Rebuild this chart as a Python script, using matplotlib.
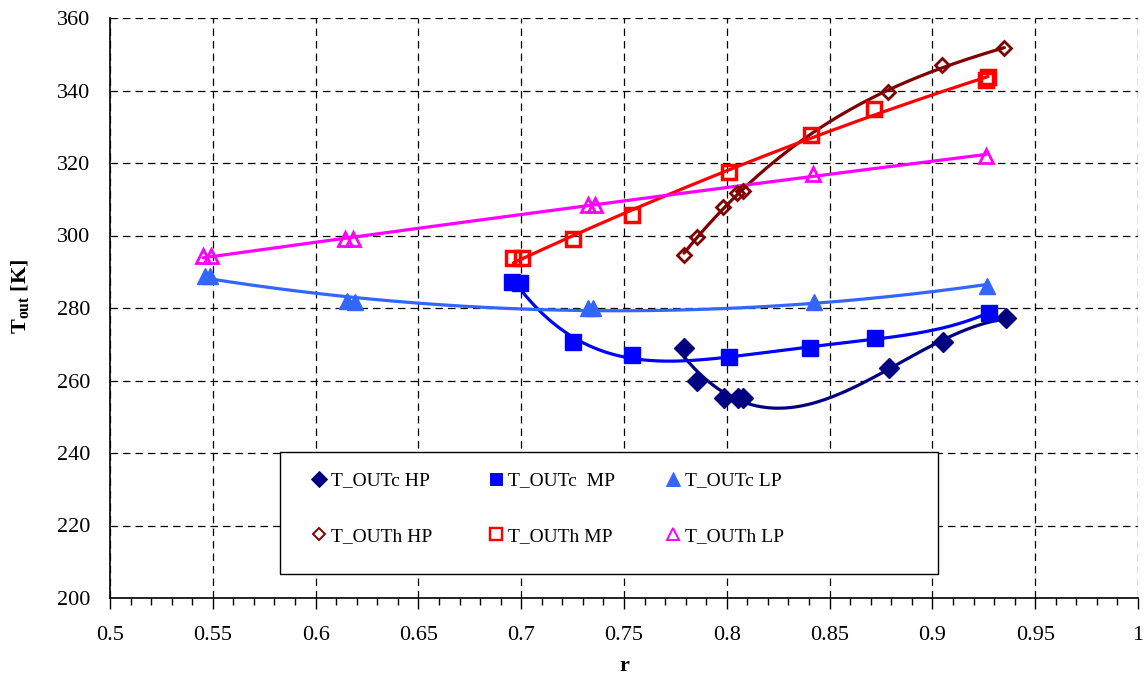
import numpy as np
import matplotlib
matplotlib.use("Agg")
import matplotlib.pyplot as plt
from matplotlib.lines import Line2D
from matplotlib.patches import Rectangle
from matplotlib.ticker import MultipleLocator

plt.rcParams['font.family'] = ['Liberation Serif', 'DejaVu Serif']
plt.rcParams['mathtext.fontset'] = 'custom'
plt.rcParams['mathtext.rm'] = 'Liberation Serif'
plt.rcParams['mathtext.bf'] = 'Liberation Serif:bold'
plt.rcParams['mathtext.it'] = 'Liberation Serif:italic'

# ---- data ----
r_c_hp = [0.7792, 0.7853, 0.7988, 0.8055, 0.8080, 0.8790, 0.9053, 0.9358]
t_c_hp = [268.9, 259.9, 255.3, 255.2, 255.3, 263.5, 270.7, 277.2]

r_c_mp = [0.6955, 0.6995, 0.7253, 0.7537, 0.8010, 0.8405, 0.8722, 0.9275]
t_c_mp = [287.2, 286.8, 270.7, 267.0, 266.4, 268.9, 271.7, 278.7]

r_c_lp = [0.5460, 0.5485, 0.6152, 0.6190, 0.7325, 0.7350, 0.8424, 0.9266]
t_c_lp = [288.8, 288.8, 281.9, 281.7, 279.9, 279.9, 281.6, 286.1]

r_h_hp = [0.7792, 0.7853, 0.7983, 0.8050, 0.8080, 0.8785, 0.9048, 0.9350]
t_h_hp = [294.7, 299.5, 308.0, 311.6, 312.2, 339.5, 347.0, 351.6]

r_h_mp = [0.6962, 0.7002, 0.7253, 0.7537, 0.8012, 0.8410, 0.8717, 0.9262, 0.9270]
t_h_mp = [293.7, 293.7, 299.0, 305.7, 317.6, 327.7, 334.8, 342.9, 343.6]

r_h_lp = [0.5453, 0.5489, 0.6143, 0.6183, 0.7326, 0.7358, 0.8420, 0.9260]
t_h_lp = [294.3, 294.3, 298.9, 298.9, 308.4, 308.4, 317.1, 321.9]

labels = ["T_OUTc HP", "T_OUTc  MP", "T_OUTc LP",
          "T_OUTh HP", "T_OUTh MP", "T_OUTh LP"]

x_ticks = [0.5, 0.55, 0.6, 0.65, 0.7, 0.75, 0.8, 0.85, 0.9, 0.95, 1.0]
x_ticklabels = ["0.5", "0.55", "0.6", "0.65", "0.7", "0.75", "0.8", "0.85", "0.9", "0.95", "1"]
y_ticks = [200, 220, 240, 260, 280, 300, 320, 340, 360]

# ---- style per series ----
series = [
    dict(r=r_c_hp, t=t_c_hp, deg=3, color='#000080', marker='D', ms=10, filled=True, mew=1),
    dict(r=r_c_mp, t=t_c_mp, deg=4, color='#0000FF', marker='s', ms=11, filled=True, mew=1),
    dict(r=r_c_lp, t=t_c_lp, deg=2, color='#3366FF', marker='^', ms=12, filled=True, mew=1),
    dict(r=r_h_hp, t=t_h_hp, deg=3, color='#800000', marker='D', ms=7.5, filled=False, mew=2),
    dict(r=r_h_mp, t=t_h_mp, deg=2, color='#FF0000', marker='s', ms=10, filled=False, mew=2.5),
    dict(r=r_h_lp, t=t_h_lp, deg=2, color='#FF00FF', marker='^', ms=10.5, filled=False, mew=2),
]

W, H = 1146, 681
fig = plt.figure(figsize=(W / 100, H / 100), dpi=100)
L, R, T, B = 110, 1138, 18, 598
ax = fig.add_axes([L / W, (H - B) / H, (R - L) / W, (B - T) / H])

handles = []
for s in series:
    x = np.asarray(s['r'])
    y = np.asarray(s['t'])
    p = np.polynomial.Polynomial.fit(x, y, s['deg'])
    xf = np.linspace(x.min(), x.max(), 400)
    ax.plot(xf, p(xf), color=s['color'], lw=2.3, zorder=3, solid_capstyle='round')
    fc = s['color'] if s['filled'] else 'none'
    ax.plot(x, y, linestyle='none', marker=s['marker'], ms=s['ms'],
            markerfacecolor=fc, markeredgecolor=s['color'], mew=s['mew'], zorder=4)
    handles.append(Line2D([], [], linestyle='none', marker=s['marker'],
                          ms=s['ms'] * 0.85, markerfacecolor=fc,
                          markeredgecolor=s['color'], mew=s['mew'] * 0.7))

ax.set_xlim(0.5, 1.0)
ax.set_ylim(200, 360)
ax.set_xticks(x_ticks)
ax.set_xticklabels(x_ticklabels)
ax.set_yticks(y_ticks)
ax.xaxis.set_minor_locator(MultipleLocator(0.01))
ax.tick_params(axis='x', which='major', direction='out', length=8, width=1, pad=12, labelsize=16)
ax.tick_params(axis='x', which='minor', direction='out', length=5, width=1)
ax.tick_params(axis='y', which='major', direction='out', length=0, width=1, pad=14, labelsize=16)

ax.grid(True, which='major', color='black', linestyle=(0, (6, 4)), linewidth=0.9)
ax.set_axisbelow(True)
for sp in ['top', 'right']:
    ax.spines[sp].set_visible(False)
for sp in ['left', 'bottom']:
    ax.spines[sp].set_linewidth(1.2)
    ax.spines[sp].set_color('black')

ax.set_xlabel('r', fontsize=16, fontweight='bold')
ax.xaxis.set_label_coords(0.5, -0.1)
ax.set_ylabel(r'$\mathbf{T_{out}}$ [K]', fontsize=16, fontweight='bold')
ax.yaxis.set_label_coords(-0.077, 0.52)

# legend frame
def fx(px):
    return (px - L) / (R - L)

def fy(py):
    return (B - py) / (B - T)

rect = Rectangle((fx(280), fy(574)), fx(938) - fx(280), fy(452) - fy(574),
                 transform=ax.transAxes, facecolor='white', edgecolor='black',
                 lw=1.0, zorder=6, clip_on=False)
ax.add_patch(rect)

col_x = [310, 487, 664]
for i, cx in enumerate(col_x):
    hs = [handles[i], handles[i + 3]]
    ls = [labels[i], labels[i + 3]]
    leg = ax.legend(hs, ls, loc='upper left', bbox_to_anchor=(cx / W, 1 - 472 / H),
                    bbox_transform=fig.transFigure, frameon=False, fontsize=14,
                    borderpad=0, borderaxespad=0, handlelength=0.9, handletextpad=0.2,
                    labelspacing=1.95)
    leg.set_zorder(7)
    if i < 2:
        ax.add_artist(leg)

fig.savefig('out.png', dpi=100)
